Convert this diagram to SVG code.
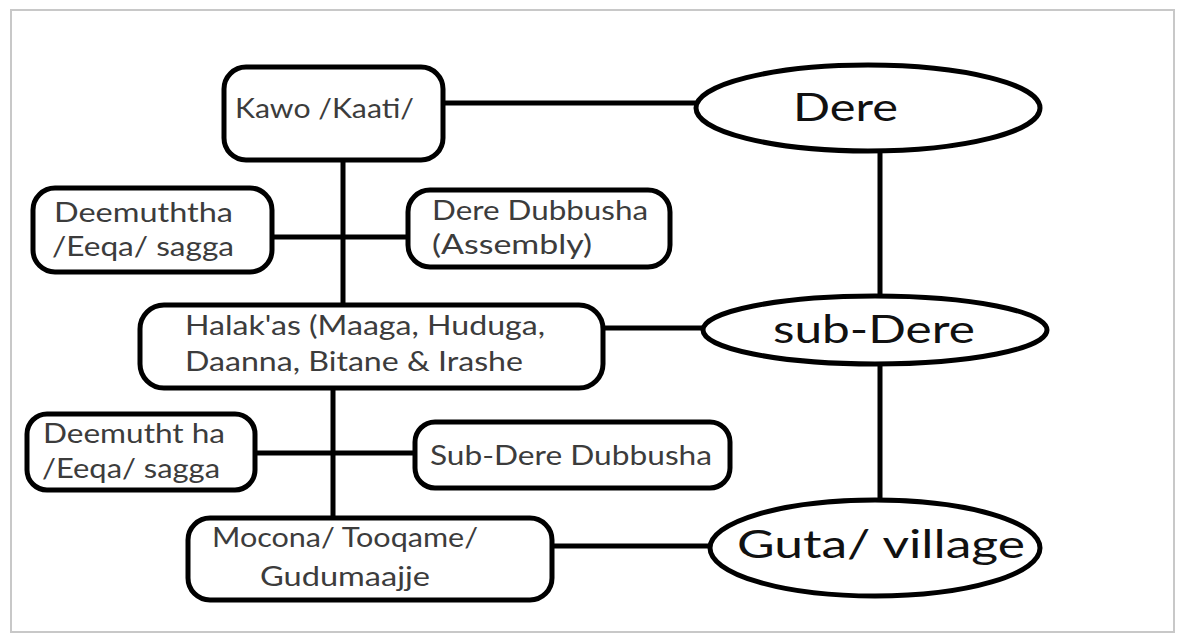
<svg xmlns="http://www.w3.org/2000/svg" width="1185" height="637" viewBox="0 0 1185 637">
<style>
.box{fill:#fff;stroke:#000;stroke-width:5}
.ell{fill:#fff;stroke:#000;stroke-width:5}
.con{stroke:#000;stroke-width:5;fill:none}
.t{font-family:Lato,"Open Sans",sans-serif;font-size:26px;fill:#3c3c3c}
.big{font-family:Lato,"Open Sans",sans-serif;font-size:38px;fill:#111}
</style>
<rect x="0" y="0" width="1185" height="637" fill="#fff"/>
<rect x="11" y="10" width="1163" height="622" fill="#fff" stroke="#c8c8c8" stroke-width="2"/>
<g id="connectors">
<line class="con" x1="443" y1="103" x2="697" y2="103"/>
<line class="con" x1="343" y1="160" x2="343" y2="305"/>
<line class="con" x1="272" y1="237" x2="408" y2="237"/>
<line class="con" x1="880" y1="150" x2="880" y2="297"/>
<line class="con" x1="603" y1="328" x2="704" y2="328"/>
<line class="con" x1="333" y1="388" x2="333" y2="518"/>
<line class="con" x1="255" y1="453" x2="415" y2="453"/>
<line class="con" x1="880" y1="363" x2="880" y2="500"/>
<line class="con" x1="552" y1="546" x2="712" y2="546"/>
</g>
<g id="kawo"><rect class="box" x="224" y="67" width="219" height="93" rx="22"/><text class="t" x="235" y="118" font-size="24" textLength="179" lengthAdjust="spacingAndGlyphs">Kawo /Kaati/</text></g>
<g id="dere"><ellipse class="ell" cx="868" cy="108" rx="172" ry="43"/><text class="big" x="793" y="121" textLength="105" lengthAdjust="spacingAndGlyphs">Dere</text></g>
<g id="deemuththa1"><rect class="box" x="33" y="188" width="239" height="84" rx="22"/><text class="t" x="54" y="222" textLength="179" lengthAdjust="spacingAndGlyphs">Deemuththa</text><text class="t" x="52" y="256" textLength="182" lengthAdjust="spacingAndGlyphs">/Eeqa/ sagga</text></g>
<g id="deredubbusha"><rect class="box" x="408" y="190" width="262" height="77" rx="22"/><text class="t" x="432" y="220" textLength="216" lengthAdjust="spacingAndGlyphs">Dere Dubbusha</text><text class="t" x="432" y="254" textLength="160" lengthAdjust="spacingAndGlyphs">(Assembly)</text></g>
<g id="halakas"><rect class="box" x="140" y="305" width="463" height="83" rx="24"/><text class="t" x="185" y="335" textLength="360" lengthAdjust="spacingAndGlyphs">Halak'as (Maaga, Huduga,</text><text class="t" x="185" y="371" textLength="338" lengthAdjust="spacingAndGlyphs">Daanna, Bitane &amp; Irashe</text></g>
<g id="subdere"><ellipse class="ell" cx="875" cy="330" rx="172" ry="34"/><text class="big" x="773" y="343" font-size="36" textLength="202" lengthAdjust="spacingAndGlyphs">sub-Dere</text></g>
<g id="deemuththa2"><rect class="box" x="27" y="414" width="228" height="76" rx="20"/><text class="t" x="43" y="443" textLength="182" lengthAdjust="spacingAndGlyphs">Deemutht ha</text><text class="t" x="42" y="478" textLength="178" lengthAdjust="spacingAndGlyphs">/Eeqa/ sagga</text></g>
<g id="subderedubbusha"><rect class="box" x="415" y="422" width="315" height="66" rx="20"/><text class="t" x="430" y="465" textLength="282" lengthAdjust="spacingAndGlyphs">Sub-Dere Dubbusha</text></g>
<g id="mocona"><rect class="box" x="188" y="518" width="364" height="82" rx="22"/><text class="t" x="212" y="547" textLength="266" lengthAdjust="spacingAndGlyphs">Mocona/ Tooqame/</text><text class="t" x="260" y="586" textLength="170" lengthAdjust="spacingAndGlyphs">Gudumaajje</text></g>
<g id="guta"><ellipse class="ell" cx="875" cy="548" rx="165" ry="48"/><text class="big" x="737" y="558" textLength="288" lengthAdjust="spacingAndGlyphs">Guta/ village</text></g>
</svg>
